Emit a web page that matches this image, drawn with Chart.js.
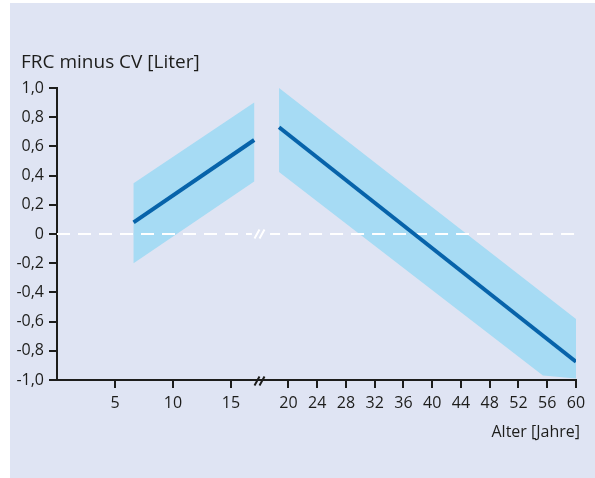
<!DOCTYPE html>
<html>
<head>
<meta charset="utf-8">
<script src="https://cdn.jsdelivr.net/npm/chart.js@4/dist/chart.umd.min.js"></script>
<style>
  html, body { margin: 0; padding: 0; background: #ffffff; }
  #c { display: block; }
</style>
</head>
<body>
<canvas id="c" width="595" height="478"></canvas>
<script>
// Children (left of the axis break), age in years
const childAges = [6.6, 17];
const childMean = [0.08, 0.644];
const childUpper = [0.348, 0.9];
const childLower = [-0.2, 0.36];

// Adults (right of the axis break)
const adultAges = [18.7, 60];
const adultMean = [0.731, -0.875];
const adultUpperAges = [18.7, 60];
const adultUpper = [1.0, -0.582];
const adultLowerAges = [18.7, 55.4, 60];
const adultLower = [0.425, -0.97, -0.99];

// Axis ticks
const childTicks = [5, 10, 15];
const adultTicks = [20, 24, 28, 32, 36, 40, 44, 48, 52, 56, 60];
const yTicks = [1.0, 0.8, 0.6, 0.4, 0.2, 0, -0.2, -0.4, -0.6, -0.8, -1.0];

// Visible age span of each axis segment
const childRange = [0, 17.5];
const adultRange = [16.05, 60];
// Zero reference line, split at the break
const zeroChildAges = [0, 16.8];
const zeroAdultAges = [17.45, 60];

const yTitle = 'FRC minus CV [Liter]';
const xTitle = 'Alter [Jahre]';

const INK = '#1d1d1b';
const PANEL = '#dfe4f3';
const BAND = '#a6dbf4';
const LINE = '#0763aa';
const FAMILY = '"Open Sans"';
const FONT = { family: FAMILY, size: 16 };

const pts = (xs, ys) => xs.map((x, i) => ({ x: x, y: ys[i] }));
// closed outline: upper edge left→right, lower edge right→left
const band = (ux, uy, lx, ly) => pts(ux, uy).concat(pts(lx, ly).reverse());
const fmt = v => (v === 0 ? '0' : v.toFixed(1).replace('.', ','));

const panelBg = {
  id: 'panelBg',
  beforeDraw(chart) {
    const ctx = chart.ctx;
    ctx.save();
    ctx.fillStyle = '#ffffff';
    ctx.fillRect(0, 0, chart.width, chart.height);
    ctx.fillStyle = PANEL;
    ctx.fillRect(10, 3, chart.width - 10, chart.height - 3);
    ctx.restore();
  }
};

const breakMarks = {
  id: 'breakMarks',
  afterDraw(chart) {
    const ctx = chart.ctx;
    const xa = chart.scales.xa;
    const y = chart.scales.y;
    const bx = xa.right;
    const mark = (cy, color) => {
      ctx.save();
      ctx.strokeStyle = color;
      ctx.lineWidth = 2;
      ctx.beginPath();
      for (const dx of [-3, 2]) {
        ctx.moveTo(bx + dx - 2.5, cy + 4.5);
        ctx.lineTo(bx + dx + 2.5, cy - 4.5);
      }
      ctx.stroke();
      ctx.restore();
    };
    mark(y.getPixelForValue(0), '#ffffff');
    mark(y.bottom + 1, INK);

    ctx.save();
    ctx.fillStyle = INK;
    ctx.textBaseline = 'middle';
    ctx.textAlign = 'left';
    ctx.font = `19px ${FAMILY}`;
    ctx.fillText(yTitle, 21, 63);
    ctx.textAlign = 'right';
    ctx.font = `16px ${FAMILY}`;
    ctx.fillText(xTitle, 580, 432);
    ctx.restore();
  }
};

const axisCommon = {
  type: 'linear',
  position: 'bottom',
  stack: 'age',
  border: { color: INK, width: 2 },
  grid: { drawOnChartArea: false, color: INK, lineWidth: 2, tickLength: 8, tickColor: INK, tickWidth: 2 },
  ticks: { color: INK, font: FONT, padding: 6, autoSkip: false, maxRotation: 0 },
  afterFit: s => { s.height = 98; }
};

new Chart(document.getElementById('c'), {
  type: 'line',
  data: {
    datasets: [
      { data: pts(childAges, childMean), xAxisID: 'xa', borderColor: LINE, borderWidth: 4, pointRadius: 0, fill: false },
      { data: pts(adultAges, adultMean), xAxisID: 'xb', borderColor: LINE, borderWidth: 4, pointRadius: 0, fill: false },
      { data: pts(zeroChildAges, [0, 0]), xAxisID: 'xa', borderColor: '#ffffff', borderWidth: 2, borderDash: [13, 8], pointRadius: 0, fill: false },
      { data: pts(zeroAdultAges, [0, 0]), xAxisID: 'xb', borderColor: '#ffffff', borderWidth: 2, borderDash: [13, 8], borderDashOffset: 3, pointRadius: 0, fill: false },
      { data: band(childAges, childUpper, childAges, childLower), xAxisID: 'xa', borderWidth: 0, borderColor: BAND, backgroundColor: BAND, pointRadius: 0, fill: 'shape' },
      { data: band(adultUpperAges, adultUpper, adultLowerAges, adultLower), xAxisID: 'xb', borderWidth: 0, borderColor: BAND, backgroundColor: BAND, pointRadius: 0, fill: 'shape' }
    ]
  },
  options: {
    responsive: false,
    animation: false,
    devicePixelRatio: 1,
    events: [],
    layout: { padding: { top: 88, right: 19, bottom: 0, left: 0 } },
    plugins: { legend: { display: false }, tooltip: { enabled: false } },
    scales: {
      xa: Object.assign({}, axisCommon, {
        stackWeight: 203,
        min: childRange[0], max: childRange[1],
        afterBuildTicks: s => { s.ticks = childTicks.map(v => ({ value: v })); }
      }),
      xb: Object.assign({}, axisCommon, {
        stackWeight: 316,
        min: adultRange[0], max: adultRange[1],
        afterBuildTicks: s => { s.ticks = adultTicks.map(v => ({ value: v })); }
      }),
      y: {
        type: 'linear',
        position: 'left',
        min: -1, max: 1,
        afterBuildTicks: s => { s.ticks = yTicks.map(v => ({ value: v })); },
        afterFit: s => { s.width = 57; },
        border: { color: INK, width: 2 },
        grid: { drawOnChartArea: false, color: INK, lineWidth: 2, tickLength: 8, tickColor: INK, tickWidth: 2 },
        ticks: { color: INK, font: FONT, padding: 5, callback: v => fmt(v) }
      }
    }
  },
  plugins: [panelBg, breakMarks]
});
</script>
</body>
</html>
